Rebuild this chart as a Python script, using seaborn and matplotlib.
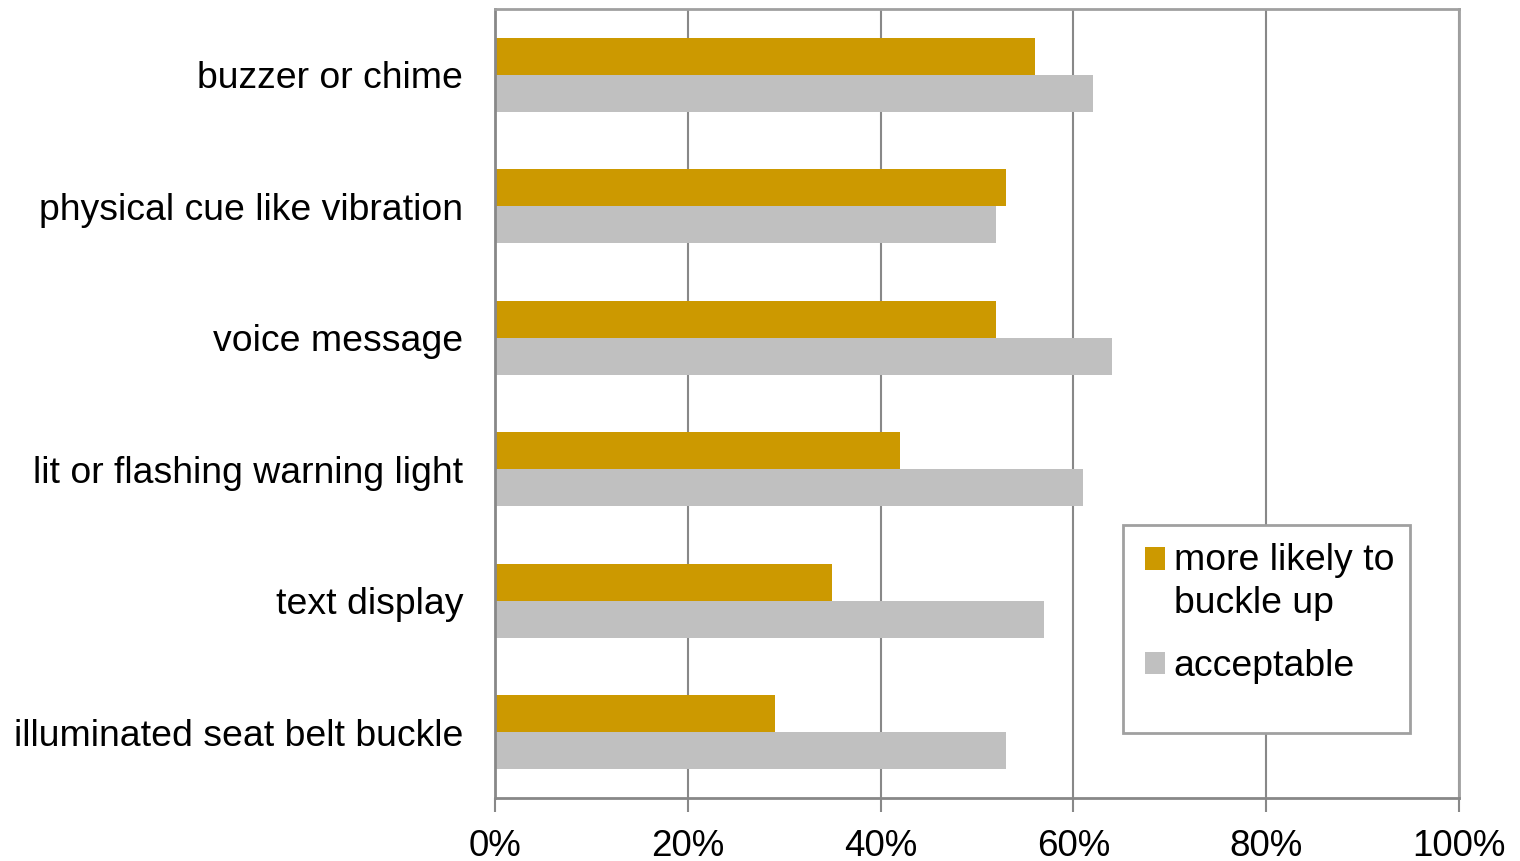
import matplotlib
matplotlib.use("Agg")
import matplotlib.pyplot as plt
import seaborn as sns
import pandas as pd
from matplotlib.ticker import FuncFormatter
from matplotlib.patches import Rectangle
from matplotlib.legend_handler import HandlerPatch

categories = ["buzzer or chime", "physical cue like vibration", "voice message",
              "lit or flashing warning light", "text display", "illuminated seat belt buckle"]
more_likely = [56, 53, 52, 42, 35, 29]
acceptable = [62, 52, 64, 61, 57, 53]
series_names = ["more likely to\nbuckle up", "acceptable"]
colors = ["#CC9900", "#C0C0C0"]
x_ticks = [0, 20, 40, 60, 80, 100]

df = pd.DataFrame({
    "category": categories * 2,
    "value": more_likely + acceptable,
    "series": [series_names[0]] * len(categories) + [series_names[1]] * len(categories),
})

sns.set_style("white")
plt.rcParams['font.family'] = ['Liberation Sans', 'DejaVu Sans']
plt.rcParams['text.color'] = 'black'
plt.rcParams['xtick.color'] = 'black'
plt.rcParams['ytick.color'] = 'black'

fig = plt.figure(figsize=(15.2, 8.61), dpi=100)
ax = fig.add_axes([495/1520, 1-798/861, 964/1520, 789/861])

sns.barplot(data=df, x="value", y="category", hue="series", orient="h",
            palette=colors, width=0.563, ax=ax, saturation=1, legend=True,
            edgecolor="none", linewidth=0)

ax.set_xlim(0, 100)
ax.set_ylim(5.5, -0.5)
ax.set_xticks(x_ticks)
ax.xaxis.set_major_formatter(FuncFormatter(lambda v, p: f"{int(v)}%"))
ax.set_xlabel("")
ax.set_ylabel("")
ax.grid(axis="x", color="#888888", linewidth=1.5)
ax.set_axisbelow(True)
for s in ax.spines.values():
    s.set_color("#A0A0A0")
    s.set_linewidth(2)
ax.spines["left"].set_color("#888888")
ax.spines["bottom"].set_color("#888888")
ax.tick_params(axis="x", which="major", direction="out", length=10, width=1.5,
               color="#888888", labelcolor="black", labelsize=26.5, pad=12, bottom=True)
ax.tick_params(axis="y", length=0, labelsize=26.9, labelcolor="black", pad=23)

# legend frame drawn as a box in axes coordinates
frame = Rectangle((0.651, 0.0824), 0.298, 0.264, transform=ax.transAxes,
                  facecolor="white", edgecolor="#A0A0A0", linewidth=2, zorder=4)
ax.add_patch(frame)

fs = 26.9


class TopHandler(HandlerPatch):
    def __init__(self, shift, **kw):
        super().__init__(**kw)
        self.shift = shift

    def create_artists(self, legend, orig_handle, xdescent, ydescent, width,
                       height, fontsize, trans):
        p = Rectangle((-xdescent, -ydescent + self.shift), width, height,
                      facecolor=orig_handle.get_facecolor(), edgecolor="none")
        p.set_transform(trans)
        return [p]


handles, labels = ax.get_legend_handles_labels()
hmap = {handles[0]: TopHandler(0.64 * fs), handles[1]: TopHandler(0)}
leg = ax.legend(handles, labels, handler_map=hmap, loc="upper left",
                bbox_to_anchor=(0.6587, 0.342), fontsize=fs, frameon=False,
                handlelength=0.55, handleheight=0.55, handletextpad=0.22,
                labelspacing=0.75, borderpad=0.4, borderaxespad=0)
leg.set_zorder(5)
for t in leg.get_texts():
    t.set_color("black")
    t.set_linespacing(1.3)

fig.savefig("out.png", dpi=100)
